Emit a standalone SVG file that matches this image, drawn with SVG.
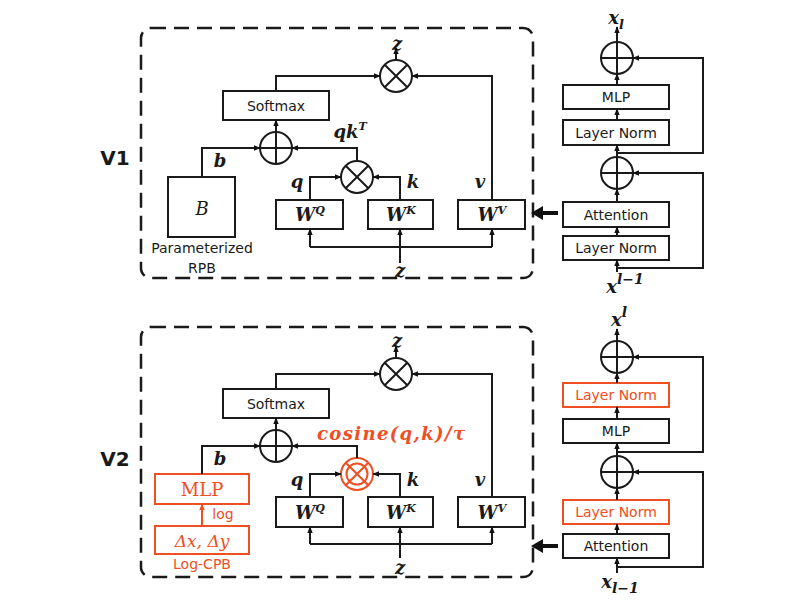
<svg xmlns="http://www.w3.org/2000/svg" width="788" height="614" viewBox="0 0 788 614">
<defs>
<marker id="ah" viewBox="0 0 10 10" refX="9" refY="5" markerWidth="7" markerHeight="7" markerUnits="userSpaceOnUse" orient="auto"><path d="M0,1 L10,5 L0,9 z" fill="#111"/></marker>
<marker id="ahr" viewBox="0 0 10 10" refX="9" refY="5" markerWidth="7" markerHeight="7" markerUnits="userSpaceOnUse" orient="auto"><path d="M0,1 L10,5 L0,9 z" fill="#f04e23"/></marker>
<style>
.dash{fill:none;stroke:#1a1a1a;stroke-width:2.5;stroke-dasharray:15 8}
.box{fill:#fff;stroke:#1a1a1a;stroke-width:2}
.rbox{fill:#fff;stroke:#f04e23;stroke-width:2}
.op{fill:#fff;stroke:#1a1a1a;stroke-width:2}
.rop{fill:#fff;stroke:#f04e23;stroke-width:2}
.ln{fill:none;stroke:#1a1a1a;stroke-width:2}
.c{fill:none;stroke:#1a1a1a;stroke-width:2;marker-end:url(#ah)}
.cr{fill:none;stroke:#f04e23;stroke-width:2;marker-end:url(#ahr)}
.s{font-family:"DejaVu Sans","Liberation Sans",sans-serif;font-size:14px;fill:#1a1a1a;text-anchor:middle}
.sr{font-family:"DejaVu Sans","Liberation Sans",sans-serif;font-size:14px;fill:#f04e23;text-anchor:middle}
.m{font-family:"DejaVu Serif","Liberation Serif",serif;font-weight:bold;font-style:italic;font-size:18px;fill:#1a1a1a;text-anchor:middle}
.mr{font-family:"DejaVu Serif","Liberation Serif",serif;font-weight:bold;font-style:italic;font-size:18px;fill:#f04e23;text-anchor:middle}
.v{font-family:"DejaVu Sans","Liberation Sans",sans-serif;font-weight:bold;font-size:20px;fill:#1a1a1a;text-anchor:middle}
.sup{font-size:11px}
</style>
</defs>
<rect width="788" height="614" fill="#fff"/>

<!-- ===== Panel V1 ===== -->
<g id="v1-frame"><rect class="dash" x="141" y="28" width="392" height="250" rx="10"/></g>
<g id="v1-label"><text class="v" x="115" y="165">V1</text></g>

<g id="v1-mul-out"><circle class="op" cx="396" cy="76" r="16"/><path class="ln" d="M384.7,64.7 L407.3,87.3 M407.3,64.7 L384.7,87.3"/></g>
<g id="v1-z-out"><text class="m" x="397" y="50">z</text></g>
<g id="v1-softmax"><rect class="box" x="223" y="91" width="106" height="29"/><text class="s" x="276" y="111" font-size="15">Softmax</text></g>
<g id="v1-add"><circle class="op" cx="276" cy="148" r="16"/><path class="ln" d="M260,148 H292 M276,132 V164"/></g>
<g id="v1-qkT"><text class="m" x="350" y="138">qk<tspan class="sup" dy="-8" font-size="12">T</tspan></text></g>
<g id="v1-b"><text class="m" x="220" y="167">b</text></g>
<g id="v1-B"><rect class="box" x="168" y="177" width="67" height="60"/><text x="202" y="215" font-family="DejaVu Serif,Liberation Serif,serif" font-style="italic" font-size="18" fill="#1a1a1a" text-anchor="middle">B</text>
<text class="s" x="202" y="253" font-size="13">Parameterized</text><text class="s" x="202" y="273" font-size="13">RPB</text></g>
<g id="v1-mul-qk"><circle class="op" cx="357" cy="177" r="16"/><path class="ln" d="M345.7,165.7 L368.3,188.3 M368.3,165.7 L345.7,188.3"/></g>
<g id="v1-q"><text class="m" x="297" y="188">q</text></g>
<g id="v1-k"><text class="m" x="413" y="188">k</text></g>
<g id="v1-v"><text class="m" x="480" y="188">v</text></g>
<g id="v1-WQ"><rect class="box" x="276" y="200" width="67" height="29"/><text class="m" x="310" y="221">W<tspan class="sup" dy="-7">Q</tspan></text></g>
<g id="v1-WK"><rect class="box" x="368" y="200" width="65" height="29"/><text class="m" x="401" y="221">W<tspan class="sup" dy="-7">K</tspan></text></g>
<g id="v1-WV"><rect class="box" x="458" y="200" width="67" height="29"/><text class="m" x="492" y="221">W<tspan class="sup" dy="-7">V</tspan></text></g>
<g id="v1-z-in"><text class="m" x="400" y="277">z</text></g>

<!-- right block V1 -->
<g id="v1-xl"><text class="m" x="616" y="24" font-size="20">x<tspan dy="5" font-size="13">l</tspan></text></g>
<g id="v1-add2"><circle class="op" cx="617" cy="58" r="16"/><path class="ln" d="M601,58 H633 M617,42 V74"/></g>
<g id="v1-mlp"><rect class="box" x="563" y="85" width="106" height="24"/><text class="s" x="616" y="102">MLP</text></g>
<g id="v1-ln2"><rect class="box" x="563" y="120" width="106" height="25"/><text class="s" x="616" y="138">Layer Norm</text></g>
<g id="v1-add1"><circle class="op" cx="617" cy="173" r="16"/><path class="ln" d="M601,173 H633 M617,157 V189"/></g>
<g id="v1-attn"><rect class="box" x="563" y="202" width="106" height="25"/><text class="s" x="616" y="220">Attention</text></g>
<g id="v1-ln1"><rect class="box" x="563" y="236" width="106" height="24"/><text class="s" x="616" y="253">Layer Norm</text></g>
<g id="v1-xin"><text class="m" x="625" y="293" font-size="20">x<tspan dy="-9" font-size="14">l−1</tspan></text></g>

<!-- ===== Panel V2 ===== -->
<g id="v2-frame"><rect class="dash" x="141" y="327" width="392" height="250" rx="10"/></g>
<g id="v2-label"><text class="v" x="115" y="466">V2</text></g>

<g id="v2-mul-out"><circle class="op" cx="396" cy="374" r="16"/><path class="ln" d="M384.7,362.7 L407.3,385.3 M407.3,362.7 L384.7,385.3"/></g>
<g id="v2-z-out"><text class="m" x="397" y="347">z</text></g>
<g id="v2-softmax"><rect class="box" x="223" y="389" width="106" height="29"/><text class="s" x="276" y="409" font-size="15">Softmax</text></g>
<g id="v2-add"><circle class="op" cx="276" cy="446" r="16"/><path class="ln" d="M260,446 H292 M276,430 V462"/></g>
<g id="v2-cos"><text class="mr" x="391" y="440" textLength="148">cosine(q,k)/τ</text></g>
<g id="v2-b"><text class="m" x="220" y="465">b</text></g>
<g id="v2-mlp-cpb"><rect class="rbox" x="155" y="474" width="94" height="30"/><text x="202" y="496" font-family="DejaVu Serif,Liberation Serif,serif" font-size="18" fill="#f04e23" text-anchor="middle">MLP</text></g>
<g id="v2-log"><text class="sr" x="223" y="519" font-size="13">log</text></g>
<g id="v2-delta"><rect class="rbox" x="155" y="526" width="94" height="28"/><text x="202" y="547" font-family="DejaVu Serif,Liberation Serif,serif" font-style="italic" font-size="17" fill="#f04e23" text-anchor="middle">Δx, Δy</text>
<text class="sr" x="202" y="569" font-size="13">Log-CPB</text></g>
<g id="v2-mul-qk"><circle class="rop" cx="357" cy="474" r="16"/><circle class="rop" cx="357" cy="474" r="10.5"/><path d="M345.7,462.7 L368.3,485.3 M368.3,462.7 L345.7,485.3" fill="none" stroke="#f04e23" stroke-width="2"/></g>
<g id="v2-q"><text class="m" x="297" y="486">q</text></g>
<g id="v2-k"><text class="m" x="413" y="486">k</text></g>
<g id="v2-v"><text class="m" x="480" y="486">v</text></g>
<g id="v2-WQ"><rect class="box" x="276" y="497" width="67" height="30"/><text class="m" x="310" y="519">W<tspan class="sup" dy="-7">Q</tspan></text></g>
<g id="v2-WK"><rect class="box" x="368" y="497" width="65" height="30"/><text class="m" x="401" y="519">W<tspan class="sup" dy="-7">K</tspan></text></g>
<g id="v2-WV"><rect class="box" x="458" y="497" width="67" height="30"/><text class="m" x="492" y="519">W<tspan class="sup" dy="-7">V</tspan></text></g>
<g id="v2-z-in"><text class="m" x="400" y="574">z</text></g>

<!-- right block V2 -->
<g id="v2-xl"><text class="m" x="619" y="326" font-size="20">x<tspan dy="-9" font-size="14">l</tspan></text></g>
<g id="v2-add2"><circle class="op" cx="617" cy="357" r="16"/><path class="ln" d="M601,357 H633 M617,341 V373"/></g>
<g id="v2-ln2"><rect class="rbox" x="563" y="383" width="106" height="24"/><text class="sr" x="616" y="400">Layer Norm</text></g>
<g id="v2-mlp"><rect class="box" x="563" y="419" width="106" height="24"/><text class="s" x="616" y="436">MLP</text></g>
<g id="v2-add1"><circle class="op" cx="617" cy="472" r="16"/><path class="ln" d="M601,472 H633 M617,456 V488"/></g>
<g id="v2-ln1"><rect class="rbox" x="563" y="500" width="106" height="24"/><text class="sr" x="616" y="517">Layer Norm</text></g>
<g id="v2-attn"><rect class="box" x="563" y="534" width="106" height="24"/><text class="s" x="616" y="551">Attention</text></g>
<g id="v2-xin"><text class="m" x="620" y="588" font-size="20">x<tspan dy="5" font-size="14">l−1</tspan></text></g>

<!-- ===== Connectors ===== -->
<g id="connectors">
<!-- V1 -->
<path class="c" d="M276,91 V76 H380"/>
<path class="c" d="M492,200 V76 H412"/>
<path class="c" d="M396,60 V48"/>
<path class="c" d="M276,132 V120"/>
<path class="c" d="M202,177 V148 H260"/>
<path class="c" d="M357,161 V148 H292"/>
<path class="c" d="M310,200 V177 H341"/>
<path class="c" d="M400,200 V177 H373"/>
<path class="c" d="M400,263 V229"/>
<path class="ln" d="M310,247 H492"/>
<path class="c" d="M310,247 V229"/>
<path class="c" d="M492,247 V229"/>
<path class="c" d="M617,272 V260"/>
<path class="c" d="M617,236 V227"/>
<path class="c" d="M617,202 V189"/>
<path class="c" d="M617,157 V145"/>
<path class="c" d="M617,120 V109"/>
<path class="c" d="M617,85 V74"/>
<path class="c" d="M617,42 V27"/>
<path class="c" d="M617,153 H703 V58 H633"/>
<path class="c" d="M617,268 H703 V173 H633"/>
<path d="M558,213 H541" stroke="#111" stroke-width="4" fill="none"/>
<path d="M531,213 L543,206 L543,220 z" fill="#111"/>
<!-- V2 -->
<path class="c" d="M276,389 V374 H380"/>
<path class="c" d="M492,497 V374 H412"/>
<path class="c" d="M396,358 V346"/>
<path class="c" d="M276,430 V418"/>
<path class="c" d="M202,474 V446 H260"/>
<path class="c" d="M357,458 V446 H292"/>
<path class="c" d="M310,497 V474 H341"/>
<path class="c" d="M400,497 V474 H373"/>
<path class="c" d="M400,558 V527"/>
<path class="ln" d="M310,544 H492"/>
<path class="c" d="M310,544 V527"/>
<path class="c" d="M492,544 V527"/>
<path class="cr" d="M202,526 V504"/>
<path class="c" d="M617,573 V558"/>
<path class="c" d="M617,534 V524"/>
<path class="c" d="M617,500 V488"/>
<path class="c" d="M617,456 V443"/>
<path class="c" d="M617,419 V407"/>
<path class="c" d="M617,383 V373"/>
<path class="c" d="M617,341 V329"/>
<path class="c" d="M617,452 H703 V357 H633"/>
<path class="c" d="M617,567 H703 V472 H633"/>
<path d="M558,546 H541" stroke="#111" stroke-width="4" fill="none"/>
<path d="M531,546 L543,539 L543,553 z" fill="#111"/>
</g>
</svg>
